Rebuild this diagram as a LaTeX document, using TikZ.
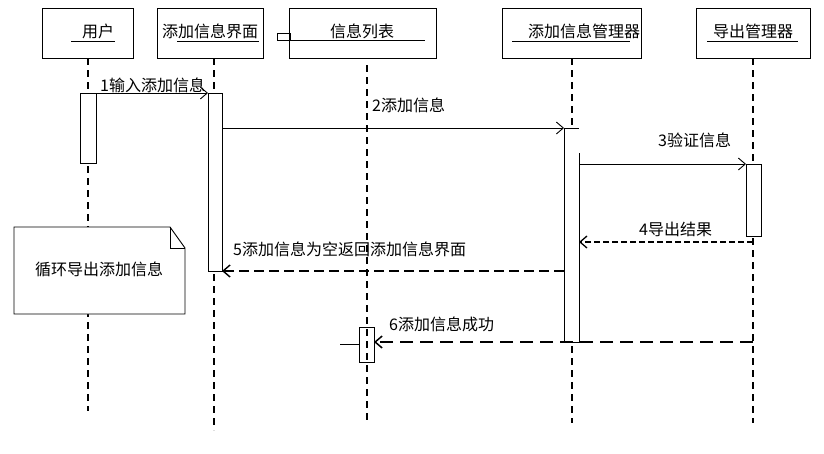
\documentclass[tikz,border=0pt]{standalone}
\usepackage{fontspec}
\setmainfont{Noto Sans CJK SC}
\usetikzlibrary{arrows.meta}
\begin{document}
\begin{tikzpicture}[x=1pt,y=-1pt,
  objbox/.style={draw,line width=0.9pt,minimum width=#1,minimum height=50pt,inner sep=0pt},
  txt/.style={inner sep=0pt,font=\fontsize{16}{16}\selectfont},
  uline/.style={line width=0.9pt},
  life/.style={line width=1.6pt,dash pattern=on 7pt off 5pt},
  actbox/.style={draw,fill=white,line width=0.9pt},
  msg/.style={line width=0.9pt,-{Straight Barb[length=7pt,width=12pt]}},
  ret/.style={msg,line width=1.4pt,dash pattern=on 10pt off 5pt},
  retfine/.style={msg,line width=1.3pt,dash pattern=on 6pt off 3pt},
  retlong/.style={msg,line width=1.5pt,dash pattern=on 13pt off 7pt}
]
\useasboundingbox (0,0) rectangle (824,453);

% object boxes
\node[objbox=91pt] (user) at (87.5,33) {};
\node[objbox=106pt] (ui) at (210,33) {};
\node[objbox=147pt] (list) at (362.5,33) {};
\node[objbox=139pt] (mgr) at (571.5,33) {};
\node[objbox=114pt] (exp) at (753,33) {};

\node[txt] (userT) at (98,31) {用户};
\node[txt] (uiT) at (210,31) {添加信息界面};
\node[txt] (listT) at (362,31) {信息列表};
\node[txt] (mgrT) at (584,31) {添加信息管理器};
\node[txt] (expT) at (753,31) {导出管理器};

\draw[uline] (71,41) -- (115,41);
\draw[uline] (177,41) -- (259,41);
\draw[uline] (277,40) -- (425,40);
\draw[line width=0.9pt] (277,33) rectangle (290,40);
\draw[uline] (512,41) -- (630,41);
\draw[uline] (707,41) -- (798,41);

% lifeline coordinates
\coordinate (userTop) at (88,58);   \coordinate (userBot) at (88,411);
\coordinate (uiTop) at (214,58);    \coordinate (uiBot) at (214,430);
\coordinate (listTop) at (367,65);  \coordinate (listBot) at (367,420);
\coordinate (mgrTop) at (572,58);   \coordinate (mgrBot) at (572,423);
\coordinate (expTop) at (753,58);   \coordinate (expBot) at (753,423);

\draw[life] (userTop) -- (userBot);
\draw[life] (uiTop) -- (uiBot);
\draw[life] (listTop) -- (listBot);
\draw[life] (mgrTop) -- (mgrBot);
\draw[life] (expTop) -- (expBot);

% activations
\draw[actbox] (80,93) rectangle (96,163);
\draw[actbox] (208,93) rectangle (222,271);
\fill[white] (564,128) rectangle (579,342);
\draw[line width=0.9pt] (564,128) -- (564,342) -- (579,342) -- (579,153);
\draw[actbox] (746,164) rectangle (761,236);
\draw[line width=0.9pt] (359,327) rectangle (374,362);
\draw[line width=0.9pt] (340,344) -- (359,344);

% note
\draw[line width=0.9pt,fill=white] (14,227) -- (170,227) -- (185,248) -- (185,314) -- (14,314) -- cycle;
\draw[line width=0.9pt] (170,227) -- (170,248) -- (185,248);
\node[txt] (noteT) at (99,269) {循环导出添加信息};

% message coordinates
\coordinate (m1s) at (96,93);   \coordinate (m1e) at (208,93);
\coordinate (m2s) at (222,128); \coordinate (m2e) at (564,128); \coordinate (m2x) at (579,128);
\coordinate (m3s) at (579,164); \coordinate (m3e) at (746,164);
\coordinate (m4s) at (753,242); \coordinate (m4e) at (579,242);
\coordinate (m5s) at (564,271); \coordinate (m5e) at (222,271);
\coordinate (m6s) at (753,342); \coordinate (m6e) at (374,342);

\draw[msg] (m1s) -- (m1e);
\draw[msg] (m2s) -- (m2e);
\draw[line width=0.9pt] (m2e) -- (m2x);
\draw[msg] (m3s) -- (m3e);
\draw[retfine] (m4s) -- (m4e);
\draw[ret] (m5s) -- (m5e);
\draw[retlong] (m6s) -- (m6e);

% labels
\node[txt,anchor=west] (l1) at (100,85) {1输入添加信息};
\node[txt,anchor=west] (l2) at (372,105) {2添加信息};
\node[txt,anchor=west] (l3) at (658,140) {3验证信息};
\node[txt,anchor=west] (l4) at (639,229) {4导出结果};
\node[txt,anchor=west] (l5) at (233,249) {5添加信息为空返回添加信息界面};
\node[txt,anchor=west] (l6) at (389,324) {6添加信息成功};
\end{tikzpicture}
\end{document}
